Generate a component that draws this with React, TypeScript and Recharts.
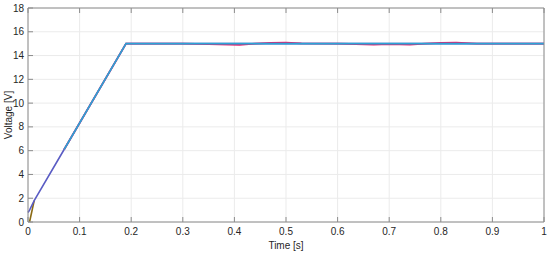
import React from 'react';
import { LineChart, Line, XAxis, YAxis, CartesianGrid } from 'recharts';

const times = [0, 0.003, 0.012, 0.07, 0.19, 0.3, 0.35, 0.41, 0.44, 0.47, 0.5, 0.53, 0.6, 0.67, 0.7, 0.74, 0.77, 0.8, 0.83, 0.87, 1];
const startup = [null, 0, 1.8, null, null, null, null, null, null, null, null, null, null, null, null, null, null, null, null, null, null];
const reference = [0.8, 1.0, 1.8, 6.1, 15, 15, 15, 15, 15, 15, 15, 15, 15, 15, 15, 15, 15, 15, 15, 15, 15];
const measured = [null, null, null, 6.1, 15, 15, 14.96, 14.9, 15.0, 15.07, 15.09, 15.03, 15.0, 14.93, 14.97, 14.92, 15.0, 15.06, 15.09, 15.0, 15.0];
const simulated = [null, null, null, 6.1, 15, 15, 15, 15, 15, 15, 15, 15, 15, 15, 15, 15, 15, 15, 15, 15, 15];
const xTicks = [0, 0.1, 0.2, 0.3, 0.4, 0.5, 0.6, 0.7, 0.8, 0.9, 1];
const yTicks = [0, 2, 4, 6, 8, 10, 12, 14, 16, 18];

const data = times.map((t, i) => ({
  t,
  startup: startup[i],
  reference: reference[i],
  measured: measured[i],
  simulated: simulated[i],
}));

const FONT = '"Liberation Sans", Arial, sans-serif';
const TXT = '#262626';
const AX = '#8c8c8c';

const BottomTick = (props: any) => {
  const { x, y, payload } = props;
  return (
    <g>
      <line x1={x} x2={x} y1={y - 6} y2={y - 11} stroke={AX} strokeWidth={1} />
      <text x={x} y={y} dy="0.71em" textAnchor="middle" fontSize={10} fontFamily={FONT} fill={TXT}>
        {String(payload.value)}
      </text>
    </g>
  );
};

const TopTick = (props: any) => {
  const { x, y } = props;
  return <line x1={x} x2={x} y1={y + 4} y2={y + 9} stroke={AX} strokeWidth={1} />;
};

const LeftTick = (props: any) => {
  const { x, y, payload } = props;
  return (
    <g>
      <line x1={x + 4} x2={x + 9} y1={y} y2={y} stroke={AX} strokeWidth={1} />
      <text x={x} y={y} dy="0.35em" textAnchor="end" fontSize={10} fontFamily={FONT} fill={TXT}>
        {String(payload.value)}
      </text>
    </g>
  );
};

const RightTick = (props: any) => {
  const { x, y } = props;
  return <line x1={x - 4} x2={x - 9} y1={y} y2={y} stroke={AX} strokeWidth={1} />;
};

export default function App() {
  return (
    <div style={{ position: 'absolute', left: 0, top: 0, background: '#fff' }}>
      <LineChart width={550} height={253} data={data} margin={{ top: 0, right: 0, left: 0, bottom: 0 }}>
        <CartesianGrid xAxisId="b" yAxisId="l" stroke="#ebebeb" strokeWidth={1} />
        <XAxis
          xAxisId="b"
          dataKey="t"
          type="number"
          domain={[0, 1]}
          ticks={xTicks}
          interval={0}
          orientation="bottom"
          height={31}
          stroke={AX}
          tickLine={false}
          tickSize={0}
          tickMargin={6}
          tick={<BottomTick />}
          label={{ value: 'Time [s]', position: 'insideBottom', offset: 4, fontSize: 10, fontFamily: FONT, fill: TXT }}
        />
        <XAxis
          xAxisId="t"
          dataKey="t"
          type="number"
          domain={[0, 1]}
          ticks={xTicks}
          interval={0}
          orientation="top"
          height={8}
          stroke={AX}
          tickLine={false}
          tickSize={0}
          tickMargin={4}
          tick={<TopTick />}
        />
        <YAxis
          yAxisId="l"
          type="number"
          domain={[0, 18]}
          ticks={yTicks}
          interval={0}
          orientation="left"
          width={28}
          stroke={AX}
          tickLine={false}
          tickSize={0}
          tickMargin={4}
          tick={<LeftTick />}
          label={{ value: 'Voltage [V]', angle: -90, position: 'insideLeft', offset: 8, fontSize: 10, fontFamily: FONT, fill: TXT, style: { textAnchor: 'middle' } }}
        />
        <YAxis
          yAxisId="r"
          type="number"
          domain={[0, 18]}
          ticks={yTicks}
          interval={0}
          orientation="right"
          width={6}
          stroke={AX}
          tickLine={false}
          tickSize={0}
          tickMargin={4}
          tick={<RightTick />}
        />
        <Line xAxisId="b" yAxisId="l" dataKey="startup" stroke="#8a6a14" strokeWidth={1.6} dot={false} isAnimationActive={false} connectNulls />
        <Line xAxisId="b" yAxisId="l" dataKey="reference" stroke="#5a5cc4" strokeWidth={1.6} dot={false} isAnimationActive={false} connectNulls />
        <Line xAxisId="b" yAxisId="l" dataKey="measured" stroke="#e3206e" strokeWidth={1.8} dot={false} isAnimationActive={false} connectNulls />
        <Line xAxisId="b" yAxisId="l" dataKey="simulated" stroke="#2aa4d6" strokeWidth={1.6} dot={false} isAnimationActive={false} connectNulls />
      </LineChart>
    </div>
  );
}
